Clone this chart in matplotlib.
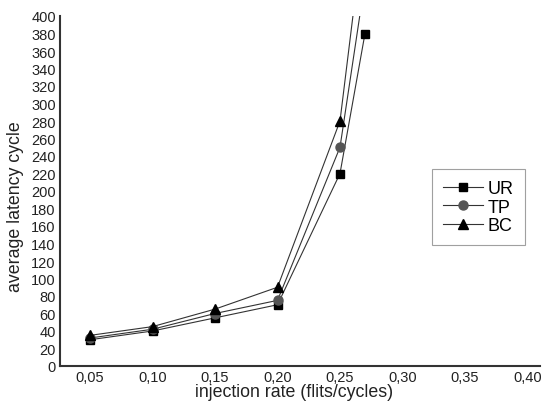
import matplotlib
matplotlib.use("Agg")
import matplotlib.pyplot as plt

plt.rcParams['font.family'] = ['Liberation Sans', 'DejaVu Sans']

x_ur = [0.05, 0.10, 0.15, 0.20, 0.25, 0.27]
ur = [30, 40, 55, 70, 220, 380]
x_tp = [0.05, 0.10, 0.15, 0.20, 0.25, 0.27]
tp = [32, 42, 60, 75, 250, 440]
x_bc = [0.05, 0.10, 0.15, 0.20, 0.25, 0.27]
bc = [35, 45, 65, 90, 280, 512]
xticks = [0.05, 0.10, 0.15, 0.20, 0.25, 0.30, 0.35, 0.40]
xticklabels = ["0,05", "0,10", "0,15", "0,20", "0,25", "0,30", "0,35", "0,40"]
yticks = list(range(0, 401, 20))

fig = plt.figure(figsize=(5.42, 4.10), dpi=100)
ax = fig.add_axes([60/542, 43/410, 480/542, 350/410])

ax.plot(x_ur, ur, color='#333333', lw=0.8, marker='s', ms=6, mfc='black', mec='black', label='UR')
ax.plot(x_tp, tp, color='#333333', lw=0.8, marker='o', ms=6.5, mfc='#555555', mec='#555555', label='TP')
ax.plot(x_bc, bc, color='#333333', lw=0.8, marker='^', ms=7, mfc='black', mec='black', label='BC')

ax.set_xlim(0.026, 0.410)
ax.set_ylim(0, 400)
ax.set_xticks(xticks)
ax.set_xticklabels(xticklabels)
ax.set_yticks(yticks)
ax.tick_params(length=0, labelsize=10.5, pad=3, colors='#222222')
for s in ['top', 'right']:
    ax.spines[s].set_visible(False)
for s in ['left', 'bottom']:
    ax.spines[s].set_color('#333333')
    ax.spines[s].set_linewidth(1.5)

ax.set_xlabel('injection rate (flits/cycles)', fontsize=12.8, color='#222222')
ax.xaxis.set_label_coords((294 - 60) / 480, -17 / 350)
ax.xaxis.label.set_verticalalignment('top')
ax.set_ylabel('average latency cycle', fontsize=12.8, color='#222222')
ax.yaxis.set_label_coords(-36 / 480, (367 - 207) / 350)

leg = ax.legend(loc='upper left', bbox_to_anchor=(372/480, 1 - 153/350), fontsize=13,
                frameon=True, fancybox=False, edgecolor='#888888', handlelength=2.2,
                borderpad=0.6, labelspacing=0.1, handletextpad=0.3, borderaxespad=0)
leg.get_frame().set_linewidth(0.8)

fig.savefig('out.png', dpi=100)
